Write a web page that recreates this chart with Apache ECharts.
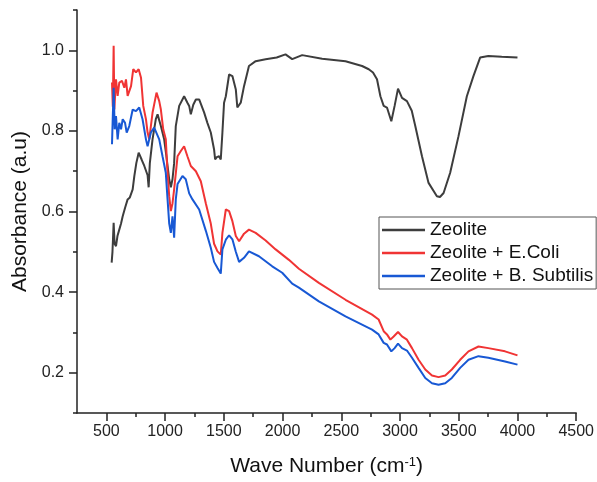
<!DOCTYPE html>
<html><head><meta charset="utf-8">
<script src="https://cdn.jsdelivr.net/npm/echarts@6/dist/echarts.min.js"></script>
<style>html,body{margin:0;padding:0;background:#fff}#c{width:597px;height:482px}</style>
</head><body><div id="c"></div>
<script>
const seriesNames = ['Zeolite', 'Zeolite + E.Coli', 'Zeolite + B. Subtilis'];
const xMajorTicks = [500,1000,1500,2000,2500,3000,3500,4000,4500];
const xMinorTicks = [750,1250,1750,2250,2750,3250,3750,4250];
const yMajorTicks = [0.2,0.4,0.6,0.8,1.0];
const yMinorTicks = [0.1,0.3,0.5,0.7,0.9,1.1];

const zeoliteX = [545,552,562,570,582,595,610,625,639,660,681,700,724,738,755,775,800,823,851,860,870,893,921,936,964,992,1010,1021,1035,1049,1063,1077,1091,1120,1162,1190,1205,1219,1240,1262,1290,1332,1360,1389,1417,1426,1440,1460,1474,1488,1502,1517,1545,1573,1602,1615,1630,1644,1672,1714,1771,1856,1950,2025,2082,2167,2337,2536,2677,2734,2770,2804,2833,2861,2889,2926,2954,2983,3017,3059,3100,3130,3187,3243,3314,3340,3371,3427,3498,3569,3625,3682,3752,3866,4000];
const zeoliteY = [0.473,0.50,0.572,0.52,0.514,0.54,0.555,0.57,0.588,0.61,0.630,0.635,0.655,0.688,0.72,0.746,0.729,0.713,0.69,0.66,0.72,0.779,0.829,0.841,0.812,0.779,0.74,0.713,0.68,0.66,0.68,0.72,0.812,0.862,0.886,0.87,0.862,0.841,0.865,0.878,0.878,0.846,0.82,0.796,0.754,0.729,0.735,0.737,0.729,0.796,0.870,0.886,0.940,0.936,0.903,0.858,0.862,0.870,0.911,0.961,0.973,0.978,0.982,0.990,0.978,0.988,0.979,0.973,0.961,0.953,0.945,0.928,0.886,0.862,0.858,0.824,0.862,0.905,0.882,0.874,0.85,0.812,0.737,0.671,0.638,0.636,0.646,0.696,0.787,0.886,0.936,0.982,0.986,0.984,0.982];

const ecoliX = [548,555,562,568,582,596,610,633,653,667,681,710,729,752,775,795,814,837,851,865,893,927,950,964,984,1006,1020,1035,1049,1063,1077,1106,1134,1162,1190,1219,1262,1304,1347,1389,1417,1446,1474,1488,1517,1545,1573,1602,1630,1672,1714,1771,1856,1941,2054,2139,2309,2536,2762,2818,2861,2889,2918,2946,2983,3017,3059,3102,3158,3215,3272,3328,3385,3441,3512,3583,3668,3752,3894,4000];
const ecoliY = [0.920,0.86,1.011,0.853,0.928,0.887,0.920,0.924,0.907,0.928,0.887,0.911,0.953,0.945,0.953,0.932,0.862,0.829,0.796,0.779,0.845,0.895,0.874,0.853,0.804,0.779,0.70,0.638,0.601,0.62,0.655,0.737,0.750,0.762,0.737,0.713,0.700,0.675,0.620,0.570,0.52,0.501,0.493,0.547,0.605,0.601,0.576,0.539,0.526,0.545,0.555,0.547,0.528,0.506,0.480,0.458,0.423,0.381,0.344,0.332,0.303,0.295,0.282,0.290,0.301,0.290,0.282,0.261,0.232,0.208,0.193,0.189,0.193,0.208,0.232,0.253,0.265,0.261,0.253,0.243];

const subtilisX = [548,554,562,571,582,596,610,625,639,659,673,695,724,752,780,808,837,851,879,907,921,950,978,1006,1021,1035,1049,1063,1077,1091,1106,1148,1176,1205,1233,1290,1347,1389,1417,1446,1474,1488,1517,1545,1573,1602,1630,1672,1714,1799,1912,1997,2082,2139,2309,2536,2762,2818,2861,2889,2926,2954,2983,3017,3059,3102,3158,3215,3272,3328,3385,3441,3512,3583,3668,3752,3894,4000];
const subtilisY = [0.767,0.829,0.907,0.804,0.837,0.779,0.820,0.804,0.829,0.820,0.796,0.812,0.853,0.849,0.858,0.829,0.779,0.762,0.796,0.808,0.808,0.779,0.737,0.696,0.630,0.570,0.547,0.588,0.535,0.630,0.668,0.688,0.680,0.645,0.630,0.605,0.552,0.510,0.475,0.460,0.446,0.506,0.530,0.541,0.531,0.500,0.475,0.485,0.501,0.489,0.464,0.448,0.421,0.411,0.377,0.340,0.307,0.295,0.274,0.270,0.253,0.261,0.272,0.261,0.255,0.237,0.212,0.187,0.174,0.170,0.174,0.187,0.212,0.232,0.241,0.237,0.228,0.220];

const colors = ['#3d3d3d', '#f03434', '#1858d4'];
const zip = (xs, ys) => xs.map((x, i) => [x, ys[i]]);
const font = 'Liberation Sans, Arial, sans-serif';
const axisCol = '#222';

const chart = echarts.init(document.getElementById('c'), null, {renderer: 'canvas'});
chart.setOption({
  animation: false,
  backgroundColor: '#fff',
  color: colors,
  grid: {left: 77, right: 19, top: 10, bottom: 69},
  legend: {
    orient: 'vertical', left: 379, top: 217,
    padding: [3, 3, 3, 3], itemGap: 3, itemWidth: 43, itemHeight: 2.5,
    icon: 'rect',
    borderColor: '#555', borderWidth: 1, borderRadius: 0,
    textStyle: {fontFamily: font, fontSize: 19, color: '#111', lineHeight: 20},
    data: seriesNames
  },
  xAxis: [{
    type: 'value', min: 250, max: 4500, position: 'bottom',
    axisLine: {show: true, onZero: false, lineStyle: {color: axisCol, width: 1.5}},
    axisTick: {show: true, length: 8, customValues: xMajorTicks, lineStyle: {color: axisCol, width: 1.5}},
    axisLabel: {customValues: xMajorTicks, fontFamily: font, fontSize: 16, color: '#222', margin: 11,
      formatter: v => String(v)},
    splitLine: {show: false},
    name: 'Wave Number (cm{sup|-1})', nameLocation: 'middle', nameGap: 43,
    nameTextStyle: {fontFamily: font, fontSize: 21, color: '#111',
      rich: {sup: {fontFamily: font, fontSize: 13, color: '#111', verticalAlign: 'top', padding: [0, 0, 8, 0]}}}
  }, {
    type: 'value', min: 250, max: 4500, position: 'bottom',
    axisLine: {show: false, onZero: false},
    axisTick: {show: true, length: 4, customValues: xMinorTicks, lineStyle: {color: axisCol, width: 1.5}},
    axisLabel: {show: false},
    splitLine: {show: false}
  }],
  yAxis: [{
    type: 'value', min: 0.1, max: 1.1, position: 'left',
    axisLine: {show: true, onZero: false, lineStyle: {color: axisCol, width: 1.5}},
    axisTick: {show: true, length: 8, customValues: yMajorTicks, lineStyle: {color: axisCol, width: 1.5}},
    axisLabel: {customValues: yMajorTicks, fontFamily: font, fontSize: 16, color: '#222', margin: 13,
      formatter: v => Number(v).toFixed(1)},
    splitLine: {show: false},
    name: 'Absorbance (a.u)', nameLocation: 'middle', nameGap: 46, nameRotate: 90,
    nameTextStyle: {fontFamily: font, fontSize: 21, color: '#111'}
  }, {
    type: 'value', min: 0.1, max: 1.1, position: 'left',
    axisLine: {show: false, onZero: false},
    axisTick: {show: true, length: 4, customValues: yMinorTicks, lineStyle: {color: axisCol, width: 1.5}},
    axisLabel: {show: false},
    splitLine: {show: false}
  }],
  series: [
    {name: seriesNames[0], type: 'line', xAxisIndex: 0, yAxisIndex: 0, data: zip(zeoliteX, zeoliteY), showSymbol: false, symbol: 'none', lineStyle: {width: 2, color: colors[0]}, itemStyle: {color: colors[0]}},
    {name: seriesNames[1], type: 'line', xAxisIndex: 0, yAxisIndex: 0, data: zip(ecoliX, ecoliY), showSymbol: false, symbol: 'none', lineStyle: {width: 2, color: colors[1]}, itemStyle: {color: colors[1]}},
    {name: seriesNames[2], type: 'line', xAxisIndex: 0, yAxisIndex: 0, data: zip(subtilisX, subtilisY), showSymbol: false, symbol: 'none', lineStyle: {width: 2, color: colors[2]}, itemStyle: {color: colors[2]}}
  ]
});
</script></body></html>
